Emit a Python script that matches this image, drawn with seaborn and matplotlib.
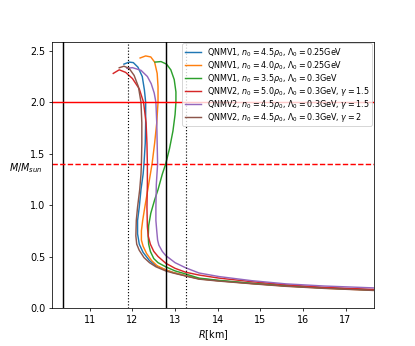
import numpy as np
import pandas as pd
import matplotlib
matplotlib.use("Agg")
import matplotlib.pyplot as plt
import seaborn as sns

labels = [
    r"QNMV1, $n_0=4.5\rho_0$, $\Lambda_0=0.25$GeV",
    r"QNMV1, $n_0=4.0\rho_0$, $\Lambda_0=0.25$GeV",
    r"QNMV1, $n_0=3.5\rho_0$, $\Lambda_0=0.3$GeV",
    r"QNMV2, $n_0=5.0\rho_0$, $\Lambda_0=0.3$GeV, $\gamma=1.5$",
    r"QNMV2, $n_0=4.5\rho_0$, $\Lambda_0=0.3$GeV, $\gamma=1.5$",
    r"QNMV2, $n_0=4.5\rho_0$, $\Lambda_0=0.3$GeV, $\gamma=2$",
]

# (R [km], M/Msun), from low mass to beyond maximum mass
blue_R = [17.65, 16.5, 15.6, 14.8, 14.0, 13.56, 13.25, 12.95, 12.78, 12.55, 12.4, 12.25, 12.16, 12.12, 12.12, 12.16, 12.2, 12.25, 12.27, 12.3, 12.31, 12.31, 12.28, 12.23, 12.13, 12.02, 11.92, 11.8]
blue_M = [0.175, 0.195, 0.215, 0.238, 0.266, 0.285, 0.313, 0.345, 0.37, 0.41, 0.46, 0.54, 0.62, 0.72, 0.85, 0.98, 1.15, 1.3, 1.4, 1.6, 1.8, 2.0, 2.12, 2.25, 2.34, 2.385, 2.39, 2.37]

orange_R = [17.65, 16.5, 15.6, 14.8, 14.0, 13.56, 13.25, 12.95, 12.78, 12.58, 12.45, 12.33, 12.25, 12.21, 12.21, 12.24, 12.29, 12.36, 12.42, 12.46, 12.52, 12.57, 12.6, 12.6, 12.58, 12.52, 12.43, 12.31, 12.18]
orange_M = [0.172, 0.192, 0.213, 0.237, 0.265, 0.283, 0.313, 0.345, 0.37, 0.41, 0.46, 0.53, 0.6, 0.66, 0.75, 0.85, 0.98, 1.15, 1.3, 1.4, 1.6, 1.8, 2.0, 2.15, 2.28, 2.39, 2.44, 2.45, 2.43]

green_R = [17.65, 16.5, 15.6, 14.8, 14.03, 13.56, 13.25, 13.0, 12.78, 12.6, 12.5, 12.42, 12.38, 12.37, 12.38, 12.43, 12.52, 12.6, 12.7, 12.78, 12.87, 12.95, 13.0, 13.02, 13.02, 12.98, 12.9, 12.8, 12.67, 12.53]
green_M = [0.175, 0.195, 0.215, 0.24, 0.268, 0.29, 0.33, 0.36, 0.40, 0.44, 0.48, 0.55, 0.62, 0.69, 0.8, 0.92, 1.05, 1.15, 1.3, 1.4, 1.55, 1.72, 1.88, 2.0, 2.1, 2.22, 2.315, 2.37, 2.395, 2.39]

red_R = [17.65, 16.5, 15.6, 14.8, 14.03, 13.56, 13.25, 13.0, 12.78, 12.6, 12.5, 12.42, 12.37, 12.35, 12.34, 12.35, 12.35, 12.34, 12.32, 12.26, 12.16, 12.0, 11.84, 11.69, 11.55]
red_M = [0.18, 0.2, 0.225, 0.255, 0.29, 0.32, 0.347, 0.385, 0.435, 0.5, 0.55, 0.62, 0.7, 0.79, 0.98, 1.2, 1.4, 1.6, 1.8, 2.0, 2.13, 2.23, 2.29, 2.315, 2.28]

purple_R = [17.65, 16.5, 15.6, 14.8, 14.03, 13.56, 13.25, 13.0, 12.78, 12.7, 12.62, 12.59, 12.57, 12.55, 12.55, 12.56, 12.59, 12.58, 12.57, 12.55, 12.51, 12.44, 12.35, 12.2, 12.0, 11.87]
purple_M = [0.195, 0.213, 0.234, 0.265, 0.305, 0.34, 0.39, 0.44, 0.51, 0.55, 0.61, 0.66, 0.75, 0.85, 0.98, 1.2, 1.4, 1.6, 1.8, 2.0, 2.09, 2.18, 2.25, 2.31, 2.336, 2.33]

brown_R = [17.65, 16.5, 15.6, 14.8, 14.0, 13.56, 13.25, 12.95, 12.78, 12.55, 12.4, 12.27, 12.16, 12.1, 12.08, 12.09, 12.12, 12.17, 12.2, 12.21, 12.22, 12.22, 12.2, 12.14, 12.04, 11.92, 11.8, 11.69]
brown_M = [0.17, 0.19, 0.21, 0.235, 0.262, 0.28, 0.31, 0.34, 0.36, 0.40, 0.44, 0.49, 0.56, 0.62, 0.7, 0.85, 0.98, 1.15, 1.3, 1.4, 1.6, 1.8, 2.0, 2.15, 2.26, 2.33, 2.35, 2.335]

series_R = [blue_R, orange_R, green_R, red_R, purple_R, brown_R]
series_M = [blue_M, orange_M, green_M, red_M, purple_M, brown_M]

vlines_solid = [10.36, 12.78]
vlines_dotted = [11.9, 13.25]
hline_solid = 2.0
hline_dashed = 1.4

rows = []
for lab, Rs, Ms in zip(labels, series_R, series_M):
    for i, (r, m) in enumerate(zip(Rs, Ms)):
        rows.append({"label": lab, "R": r, "M": m, "i": i})
df = pd.DataFrame(rows)

fig, ax = plt.subplots(figsize=(6, 5), dpi=100)
sns.lineplot(data=df, x="R", y="M", hue="label", hue_order=labels,
             palette=sns.color_palette("tab10", 6), sort=False,
             estimator=None, ax=ax, linewidth=1.5)

for v in vlines_solid:
    ax.axvline(v, color="black", linestyle="-", linewidth=1.5)
for v in vlines_dotted:
    ax.axvline(v, color="black", linestyle=":", linewidth=1.2)
ax.axhline(hline_solid, color="red", linestyle="-", linewidth=1.5)
ax.axhline(hline_dashed, color="red", linestyle="--", linewidth=1.5)

ax.set_xlim(10.11, 17.66)
ax.set_ylim(0, 2.59)
ax.set_xticks([11, 12, 13, 14, 15, 16, 17])
ax.set_yticks([0.0, 0.5, 1.0, 1.5, 2.0, 2.5])
ax.set_xlabel(r"$R$[km]")
ax.set_ylabel(r"$M/M_{sun}$", rotation=0)
ax.legend(loc="upper right", fontsize="small", borderaxespad=0.2,
          labelspacing=0.0, borderpad=0.3)

fig.savefig("out.png", dpi=69.2)
